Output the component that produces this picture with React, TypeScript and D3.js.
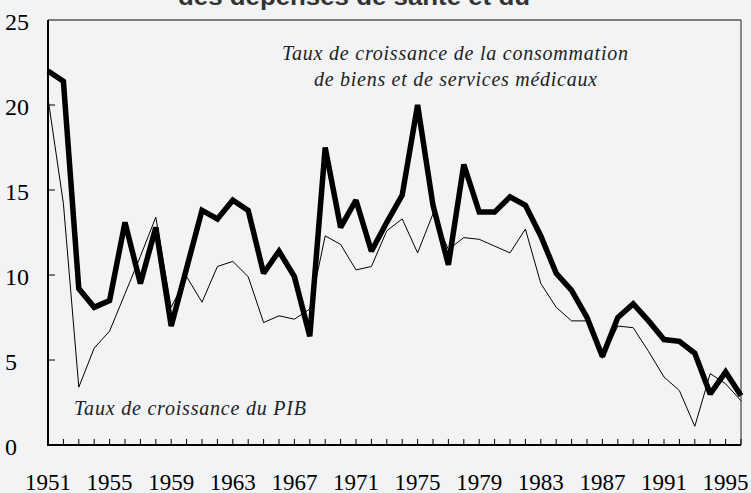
import React, { useEffect } from 'react';
import * as d3 from 'd3';

// Années 1951-1996
const years = [
  1951, 1952, 1953, 1954, 1955, 1956, 1957, 1958, 1959, 1960, 1961, 1962,
  1963, 1964, 1965, 1966, 1967, 1968, 1969, 1970, 1971, 1972, 1973, 1974,
  1975, 1976, 1977, 1978, 1979, 1980, 1981, 1982, 1983, 1984, 1985, 1986,
  1987, 1988, 1989, 1990, 1991, 1992, 1993, 1994, 1995, 1996,
];

// Taux de croissance de la consommation de biens et services médicaux (%)
const consommation = [
  22.0, 21.4, 9.2, 8.1, 8.5, 13.1, 9.5, 12.8, 7.0, 10.4, 13.8, 13.3,
  14.4, 13.8, 10.1, 11.4, 9.9, 6.4, 17.5, 12.8, 14.4, 11.4, 13.1, 14.7,
  20.0, 14.1, 10.6, 16.5, 13.7, 13.7, 14.6, 14.1, 12.3, 10.1, 9.1, 7.5,
  5.2, 7.5, 8.3, 7.3, 6.2, 6.1, 5.4, 3.0, 4.3, 2.9,
];

// Taux de croissance du PIB (%)
const pib = [
  20.4, 14.2, 3.4, 5.7, 6.7, 8.9, 11.1, 13.4, 8.1, 9.9, 8.4, 10.5,
  10.8, 9.9, 7.2, 7.6, 7.4, 8.0, 12.3, 11.8, 10.3, 10.5, 12.6, 13.3,
  11.3, 13.6, 11.5, 12.2, 12.1, 11.7, 11.3, 12.7, 9.5, 8.1, 7.3, 7.3,
  5.1, 7.0, 6.9, 5.5, 4.0, 3.2, 1.1, 4.2, 3.6, 2.6,
];

const yTicks = [0, 5, 10, 15, 20, 25];
const xLabels = [1951, 1955, 1959, 1963, 1967, 1971, 1975, 1979, 1983, 1987, 1991, 1995];

const W = 751;
const H = 493;
const margin = { top: 20, right: 10, bottom: 48, left: 48 };
const BG = '#f2f3f5';
const SERIF = '"Liberation Serif", "Times New Roman", Times, "DejaVu Serif", serif';
const SANS = '"Liberation Sans", Arial, Helvetica, sans-serif';

const App: React.FC = () => {
  useEffect(() => {
    document.body.style.margin = '0';
    document.body.style.background = BG;
  }, []);

  const x = d3
    .scaleLinear()
    .domain([1951, 1996])
    .range([margin.left, W - margin.right]);
  const y = d3
    .scaleLinear()
    .domain([0, 25])
    .range([H - margin.bottom, margin.top]);

  const line = d3
    .line<number>()
    .x((_, i) => x(years[i]))
    .y((d) => y(d));

  const x0 = x(1951);
  const x1 = x(1996);
  const y0 = y(0);
  const y1 = y(25);

  return (
    <svg width={W} height={H} style={{ display: 'block', background: BG }}>
      <rect width={W} height={H} fill={BG} />

      {/* titre tronqué en haut */}
      <text
        x={178}
        y={5}
        style={{ fontFamily: SANS, fontWeight: 'bold', fontSize: 23 }}
        textLength={352}
        lengthAdjust="spacingAndGlyphs"
        fill="#333"
      >
        des dépenses de santé et du
      </text>

      {/* cadre */}
      <line x1={x0} x2={x1} y1={y1} y2={y1} stroke="#555" strokeWidth={1.5} />
      <line x1={x1} x2={x1} y1={y1} y2={y0} stroke="#666" strokeWidth={1.5} />

      {/* séries */}
      <path d={line(pib) || ''} fill="none" stroke="#000" strokeWidth={1} />
      <path
        d={line(consommation) || ''}
        fill="none"
        stroke="#000"
        strokeWidth={5.5}
        strokeLinejoin="miter"
        strokeMiterlimit={2}
      />

      {/* axes */}
      <line x1={x0} x2={x0} y1={y1} y2={y0 + 1} stroke="#000" strokeWidth={2} />
      <line x1={x0} x2={x1} y1={y0} y2={y0} stroke="#000" strokeWidth={2} />

      {yTicks.slice(1, -1).map((t) => (
        <line key={t} x1={x0} x2={x0 + 7} y1={y(t)} y2={y(t)} stroke="#000" strokeWidth={1} />
      ))}
      {years.slice(1).map((yr) => (
        <line key={yr} x1={x(yr)} x2={x(yr)} y1={y0} y2={y0 - 6} stroke="#000" strokeWidth={1} />
      ))}

      {yTicks.map((t) => (
        <text key={t} x={5} y={y(t) + 10} style={{ fontFamily: SERIF, fontSize: 24 }} fill="#000">
          {t}
        </text>
      ))}
      {xLabels.map((yr) => (
        <text
          key={yr}
          x={x(yr)}
          y={490}
          textAnchor="middle"
          style={{ fontFamily: SERIF, fontSize: 23 }}
          fill="#000"
        >
          {yr}
        </text>
      ))}

      {/* annotations */}
      <g style={{ fontFamily: SERIF, fontStyle: 'italic', fontSize: 20 }} fill="#222">
        <text x={282} y={60} textLength={346} lengthAdjust="spacing">
          Taux de croissance de la consommation
        </text>
        <text x={314} y={85.5} textLength={283} lengthAdjust="spacing">
          de biens et de services médicaux
        </text>
        <text x={74} y={415} textLength={232} lengthAdjust="spacing">
          Taux de croissance du PIB
        </text>
      </g>
    </svg>
  );
};

export default App;
